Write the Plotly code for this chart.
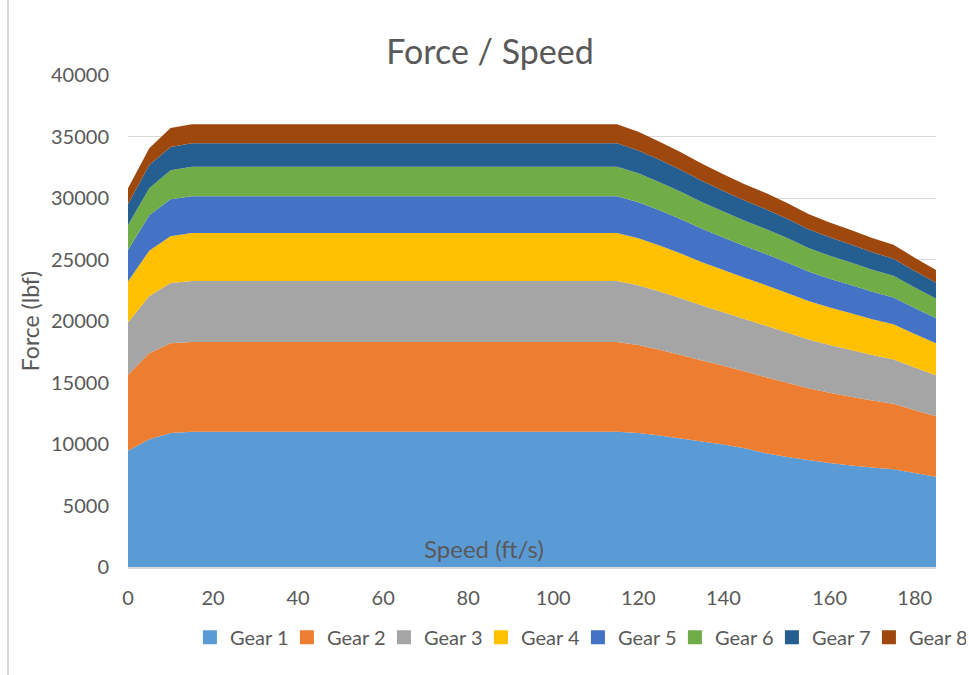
import plotly.graph_objects as go

# Speed samples (ft/s) used as chart categories
speed = [0, 5, 10, 15, 20, 25, 30, 35, 40, 45, 50, 55, 60, 65, 70, 75, 80, 85, 90,
         95, 100, 105, 110, 115, 120, 125, 130, 135, 140, 144, 148, 152, 156, 160,
         165, 170, 175, 180, 185]

# Tractive force contribution of each gear (lbf)
gear1 = [9450, 10380, 10900, 11000, 11000, 11000, 11000, 11000, 11000, 11000, 11000,
         11000, 11000, 11000, 11000, 11000, 11000, 11000, 11000, 11000, 11000, 11000,
         11000, 11000, 10900, 10700, 10450, 10200, 9950, 9650, 9250, 8940, 8700, 8460,
         8260, 8090, 7940, 7640, 7340]
gear2 = [6180, 6990, 7300, 7300, 7300, 7300, 7300, 7300, 7300, 7300, 7300, 7300, 7300,
         7300, 7300, 7300, 7300, 7300, 7300, 7300, 7300, 7300, 7300, 7300, 7150, 6970,
         6790, 6590, 6420, 6270, 6170, 6030, 5840, 5710, 5590, 5450, 5330, 5110, 4910]
gear3 = [4250, 4660, 4880, 4950, 4950, 4950, 4950, 4950, 4950, 4950, 4950, 4950, 4950,
         4950, 4950, 4950, 4950, 4950, 4950, 4950, 4950, 4950, 4950, 4950, 4850, 4730,
         4610, 4470, 4350, 4250, 4190, 4090, 3960, 3870, 3790, 3690, 3610, 3470, 3330]
gear4 = [3330, 3690, 3820, 3900, 3900, 3900, 3900, 3900, 3900, 3900, 3900, 3900, 3900,
         3900, 3900, 3900, 3900, 3900, 3900, 3900, 3900, 3900, 3900, 3900, 3820, 3730,
         3630, 3520, 3430, 3350, 3300, 3220, 3120, 3050, 2980, 2910, 2850, 2730, 2620]
gear5 = [2570, 2870, 2990, 3000, 3000, 3000, 3000, 3000, 3000, 3000, 3000, 3000, 3000,
         3000, 3000, 3000, 3000, 3000, 3000, 3000, 3000, 3000, 3000, 3000, 2940, 2870,
         2790, 2710, 2640, 2580, 2540, 2480, 2400, 2340, 2300, 2240, 2190, 2100, 2020]
gear6 = [2030, 2200, 2360, 2400, 2400, 2400, 2400, 2400, 2400, 2400, 2400, 2400, 2400,
         2400, 2400, 2400, 2400, 2400, 2400, 2400, 2400, 2400, 2400, 2400, 2350, 2290,
         2230, 2170, 2110, 2060, 2030, 1980, 1920, 1880, 1840, 1790, 1750, 1680, 1610]
gear7 = [1700, 1890, 1900, 1900, 1900, 1900, 1900, 1900, 1900, 1900, 1900, 1900, 1900,
         1900, 1900, 1900, 1900, 1900, 1900, 1900, 1900, 1900, 1900, 1900, 1860, 1810,
         1770, 1720, 1670, 1630, 1610, 1570, 1520, 1490, 1450, 1420, 1390, 1330, 1280]
gear8 = [1280, 1360, 1550, 1550, 1550, 1550, 1550, 1550, 1550, 1550, 1550, 1550, 1550,
         1550, 1550, 1550, 1550, 1550, 1550, 1550, 1550, 1550, 1550, 1550, 1520, 1480,
         1440, 1400, 1360, 1330, 1310, 1280, 1240, 1210, 1190, 1160, 1130, 1090, 1040]

series_names = ["Gear 1", "Gear 2", "Gear 3", "Gear 4",
                "Gear 5", "Gear 6", "Gear 7", "Gear 8"]
series_values = [gear1, gear2, gear3, gear4, gear5, gear6, gear7, gear8]
colors = ["#5B9BD5", "#ED7D31", "#A5A5A5", "#FFC000",
          "#4472C4", "#70AD47", "#255E91", "#9E480E"]

x_tick_labels = ["0", "20", "40", "60", "80", "100", "120", "140", "160", "180"]

FONT = "Lato"
TEXT = "#595959"

cats = [str(s) for s in speed]

fig = go.Figure()
for name, vals, col in zip(series_names, series_values, colors):
    fig.add_trace(go.Scatter(
        x=cats, y=vals, name=name, stackgroup="gears", mode="none",
        fillcolor=col, line=dict(width=0), showlegend=False,
        hovertemplate=name + ": %{y}<extra></extra>",
    ))

# Square swatches for the legend
for name, col in zip(series_names, colors):
    fig.add_trace(go.Scatter(
        x=[None], y=[None], mode="markers", name=name,
        marker=dict(symbol="square", size=14, color=col),
        showlegend=True,
    ))

fig.update_layout(
    width=969, height=675,
    margin=dict(l=128, r=33, t=75, b=108, autoexpand=False),
    paper_bgcolor="white", plot_bgcolor="white",
    font=dict(family=FONT, color=TEXT, size=20),
    title=dict(text="Force / Speed", x=0.5057, xanchor="center",
               y=0.923, yanchor="middle",
               font=dict(family=FONT, size=34, color=TEXT)),
    showlegend=True,
    legend=dict(orientation="h", xref="container", yref="container",
                x=0.196, xanchor="left", y=0.056, yanchor="middle",
                font=dict(size=20, color=TEXT),
                entrywidth=52, entrywidthmode="pixels",
                itemwidth=30, traceorder="normal",
                bgcolor="rgba(0,0,0,0)"),
)

fig.update_xaxes(
    type="category", categoryorder="array", categoryarray=cats,
    range=[0, len(cats) - 1],
    tickmode="array", tickvals=x_tick_labels, ticktext=x_tick_labels,
    showgrid=False, zeroline=False,
    showline=True, linecolor="#D9D9D9", linewidth=1.5,
    ticks="", ticklabelstandoff=12,
    tickfont=dict(family=FONT, size=20, color=TEXT),
)

fig.update_yaxes(
    range=[0, 40000], dtick=5000, tick0=0, tickformat="d",
    showgrid=True, gridcolor="#D9D9D9", gridwidth=1.2,
    zeroline=False, showline=False, ticks="",
    ticklabelstandoff=18,
    tickfont=dict(family=FONT, size=20, color=TEXT),
    title=dict(text="Force (lbf)", standoff=4,
               font=dict(family=FONT, size=23, color=TEXT)),
)

# Axis title for speed, set just above the horizontal axis
fig.add_annotation(
    text="Speed (ft/s)", xref="paper", yref="paper",
    x=0.4406, y=0.0366, xanchor="center", yanchor="middle",
    showarrow=False, font=dict(family=FONT, size=24, color=TEXT),
)

# Chart border on the left
fig.add_shape(type="line", xref="paper", yref="paper",
              x0=-0.1485, x1=-0.1485, y0=-0.22, y1=1.16,
              line=dict(color="#D9D9D9", width=2))

fig.write_html("out.html")
